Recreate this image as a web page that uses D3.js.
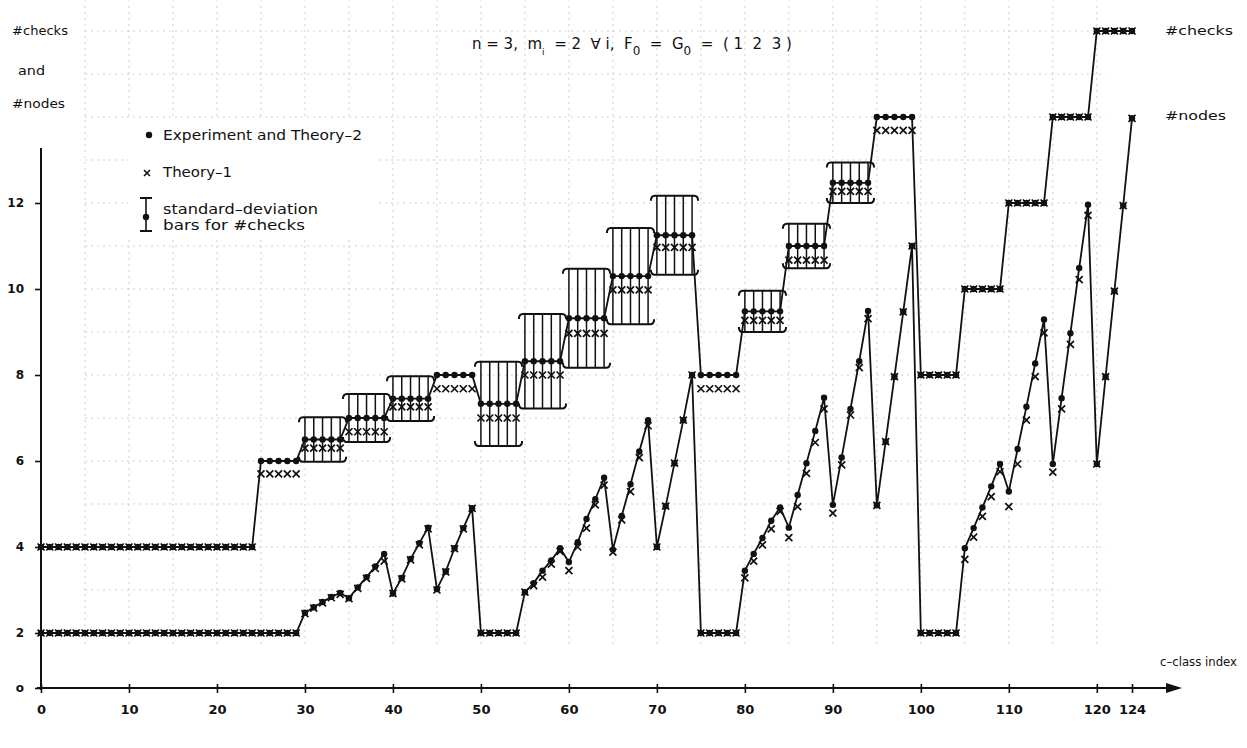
<!DOCTYPE html>
<html>
<head>
<meta charset="utf-8">
<script src="https://cdn.jsdelivr.net/npm/d3@7"></script>
<style>
  html, body { margin: 0; padding: 0; background: #fff; }
  text { font-family: "DejaVu Sans", "Liberation Sans", Arial, sans-serif; fill: #111; white-space: pre; }
</style>
</head>
<body>
<script>
// ---------------- data ----------------
const xTicks = [0, 10, 20, 30, 40, 50, 60, 70, 80, 90, 100, 110, 120, 124];
const yTicks = [0, 2, 4, 6, 8, 10, 12];

// #checks, Experiment and Theory-2 (index 0..124)
const checksExp = [
  4,4,4,4,4, 4,4,4,4,4, 4,4,4,4,4, 4,4,4,4,4, 4,4,4,4,4,
  6,6,6,6,6,
  6.5,6.5,6.5,6.5,6.5,
  7,7,7,7,7,
  7.45,7.45,7.45,7.45,7.45,
  8,8,8,8,8,
  7.33,7.33,7.33,7.33,7.33,
  8.32,8.32,8.32,8.32,8.32,
  9.32,9.32,9.32,9.32,9.32,
  10.3,10.3,10.3,10.3,10.3,
  11.25,11.25,11.25,11.25,11.25,
  8,8,8,8,8,
  9.48,9.48,9.48,9.48,9.48,
  11,11,11,11,11,
  12.47,12.47,12.47,12.47,12.47,
  14,14,14,14,14,
  8,8,8,8,8,
  10,10,10,10,10,
  12,12,12,12,12,
  14,14,14,14,14,
  16,16,16,16,16
];
// #checks, Theory-1
const checksT1 = [
  4,4,4,4,4, 4,4,4,4,4, 4,4,4,4,4, 4,4,4,4,4, 4,4,4,4,4,
  5.7,5.7,5.7,5.7,5.7,
  6.3,6.3,6.3,6.3,6.3,
  6.68,6.68,6.68,6.68,6.68,
  7.26,7.26,7.26,7.26,7.26,
  7.68,7.68,7.68,7.68,7.68,
  7.0,7.0,7.0,7.0,7.0,
  8.0,8.0,8.0,8.0,8.0,
  8.97,8.97,8.97,8.97,8.97,
  9.98,9.98,9.98,9.98,9.98,
  10.97,10.97,10.97,10.97,10.97,
  7.68,7.68,7.68,7.68,7.68,
  9.27,9.27,9.27,9.27,9.27,
  10.67,10.67,10.67,10.67,10.67,
  12.27,12.27,12.27,12.27,12.27,
  13.69,13.69,13.69,13.69,13.69,
  8,8,8,8,8,
  10,10,10,10,10,
  12,12,12,12,12,
  14,14,14,14,14,
  16,16,16,16,16
];
// standard deviation of #checks (null = no bar)
const checksSD = [
  null,null,null,null,null, null,null,null,null,null, null,null,null,null,null, null,null,null,null,null, null,null,null,null,null,
  null,null,null,null,null,
  0.52,0.52,0.52,0.52,0.52,
  0.56,0.56,0.56,0.56,0.56,
  0.52,0.52,0.52,0.52,0.52,
  null,null,null,null,null,
  0.98,0.98,0.98,0.98,0.98,
  1.1,1.1,1.1,1.1,1.1,
  1.15,1.15,1.15,1.15,1.15,
  1.12,1.12,1.12,1.12,1.12,
  0.92,0.92,0.92,0.92,0.92,
  null,null,null,null,null,
  0.48,0.48,0.48,0.48,0.48,
  0.52,0.52,0.52,0.52,0.52,
  0.47,0.47,0.47,0.47,0.47,
  null,null,null,null,null,
  null,null,null,null,null,
  null,null,null,null,null,
  null,null,null,null,null,
  null,null,null,null,null,
  null,null,null,null,null
];
// #nodes, Experiment and Theory-2
const nodesExp = [
  2,2,2,2,2, 2,2,2,2,2, 2,2,2,2,2, 2,2,2,2,2, 2,2,2,2,2, 2,2,2,2,2,
  2.47,2.6,2.72,2.84,2.93, 2.81,3.06,3.3,3.55,3.84,
  2.92,3.28,3.72,4.09,4.45, 3.02,3.43,3.97,4.44,4.9,
  2,2,2,2,2,
  2.95,3.16,3.45,3.69,3.97, 3.65,4.11,4.65,5.11,5.61,
  3.94,4.72,5.46,6.22,6.95, 4.0,4.95,5.95,6.95,8.0,
  2,2,2,2,2,
  3.45,3.84,4.21,4.61,4.92, 4.45,5.21,5.95,6.7,7.47,
  4.98,6.08,7.21,8.32,9.49, 4.97,6.45,7.96,9.47,11.0,
  2,2,2,2,2,
  3.97,4.44,4.92,5.41,5.93, 5.29,6.28,7.26,8.27,9.29,
  5.93,7.46,8.97,10.49,11.96, 5.93,7.96,9.95,11.94,13.97
];
// #nodes, Theory-1
const nodesT1 = [
  2,2,2,2,2, 2,2,2,2,2, 2,2,2,2,2, 2,2,2,2,2, 2,2,2,2,2, 2,2,2,2,2,
  2.45,2.58,2.7,2.82,2.9, 2.8,3.04,3.27,3.5,3.67,
  2.92,3.26,3.7,4.05,4.42, 3.0,3.42,3.96,4.42,4.9,
  2,2,2,2,2,
  2.95,3.1,3.3,3.6,3.9, 3.45,4.0,4.44,4.98,5.44,
  3.88,4.63,5.29,6.08,6.82, 4.0,4.95,5.95,6.95,8.0,
  2,2,2,2,2,
  3.28,3.67,4.05,4.42,4.83, 4.22,4.94,5.71,6.43,7.21,
  4.79,5.91,7.07,8.17,9.31, 4.97,6.45,7.96,9.47,11.0,
  2,2,2,2,2,
  3.71,4.23,4.71,5.17,5.75, 4.94,5.93,6.95,7.96,8.98,
  5.74,7.21,8.71,10.22,11.71, 5.93,7.96,9.95,11.94,13.97
];

// ---------------- chart ----------------
const W = 1247, H = 748;
const svg = d3.select("body").append("svg").attr("width", W).attr("height", H)
  .style("background", "#fff");

const x = d3.scaleLinear().domain([0, 124]).range([41, 1132]);
// the original drawing compresses the 0..2 band
const y = d3.scaleLinear().domain([0, 2, 16]).range([688, 633, 31]);

// faint graph-paper grid
const grid = svg.append("g").attr("stroke", "#a0a0a0").attr("stroke-width", 0.8)
  .attr("stroke-dasharray", "2,4").attr("opacity", 0.6);
grid.selectAll("line.v").data(d3.range(5, 121, 5)).join("line")
  .attr("x1", d => x(d)).attr("x2", d => x(d)).attr("y1", y(1.6)).attr("y2", y(16.7));
grid.selectAll("line.h").data(d3.range(3, 17, 1)).join("line")
  .attr("x1", x(5)).attr("x2", x(121)).attr("y1", d => y(d)).attr("y2", d => y(d));

// white box behind legend
svg.append("rect").attr("x", 128).attr("y", 118).attr("width", 250).attr("height", 122).attr("fill", "#fff");

// axes
const xAxis = d3.axisBottom(x).tickValues(xTicks).tickSize(5).tickPadding(12)
  .tickFormat(d3.format("d"));
const gx = svg.append("g").attr("transform", `translate(0,${y(0)})`).call(xAxis);
gx.select(".domain").remove();
gx.selectAll(".tick line").attr("stroke", "#111").attr("stroke-width", 1.6).attr("y1", -4);
gx.selectAll(".tick text").style("font-size", "13px").style("font-weight", "bold")
  .attr("fill", "#111");
svg.append("line").attr("x1", x(0) - 4).attr("x2", 1178).attr("y1", y(0)).attr("y2", y(0))
  .attr("stroke", "#111").attr("stroke-width", 2);
svg.append("path").attr("d", `M1166,${y(0) - 5} L1182,${y(0)} L1166,${y(0) + 5} Z`).attr("fill", "#111");

const yAxis = d3.axisLeft(y).tickValues(yTicks).tickSize(6).tickPadding(11)
  .tickFormat(d => d === 0 ? "o" : d);
const gy = svg.append("g").attr("transform", `translate(${x(0)},0)`).call(yAxis);
gy.select(".domain").remove();
gy.selectAll(".tick line").attr("stroke", "#111").attr("stroke-width", 1.6);
gy.selectAll(".tick text").style("font-size", "12px").style("font-weight", "bold")
  .attr("fill", "#111");
svg.append("line").attr("x1", x(0)).attr("x2", x(0)).attr("y1", y(0) + 2).attr("y2", 148)
  .attr("stroke", "#111").attr("stroke-width", 2);

// error bars for #checks
const blocks = [];
checksSD.forEach((s, i) => {
  if (s == null) return;
  const last = blocks[blocks.length - 1];
  if (last && last.end === i - 1 && checksSD[i - 1] === s) last.end = i;
  else blocks.push({ start: i, end: i });
});
const eb = svg.append("g").attr("stroke", "#111").attr("fill", "none");
blocks.forEach(b => {
  const idx = d3.range(b.start, b.end + 1);
  const hi = checksExp[b.start] + checksSD[b.start];
  const lo = checksExp[b.start] - checksSD[b.start];
  eb.selectAll(null).data(idx).join("line")
    .attr("x1", i => x(i)).attr("x2", i => x(i))
    .attr("y1", i => y(checksExp[i] + checksSD[i])).attr("y2", i => y(checksExp[i] - checksSD[i]))
    .attr("stroke-width", 1.5);
  const x0 = x(b.start) - 6, x1 = x(b.end) + 6;
  const yh = y(hi), yl = y(lo);
  eb.append("path").attr("stroke-width", 2)
    .attr("d", `M${x0},${yh + 5} Q${x0},${yh} ${x0 + 4},${yh} L${x1 - 4},${yh} Q${x1},${yh} ${x1},${yh + 5}`);
  eb.append("path").attr("stroke-width", 2)
    .attr("d", `M${x0},${yl - 5} Q${x0},${yl} ${x0 + 4},${yl} L${x1 - 4},${yl} Q${x1},${yl} ${x1},${yl - 5}`);
});

// lines
const line = d3.line().x((d, i) => x(i)).y(d => y(d));
svg.append("path").datum(checksExp).attr("d", line).attr("fill", "none")
  .attr("stroke", "#111").attr("stroke-width", 1.8);
svg.append("path").datum(nodesExp).attr("d", line).attr("fill", "none")
  .attr("stroke", "#111").attr("stroke-width", 1.8);

// markers
const cross = "M-3.5,-3.5L3.5,3.5M-3.5,3.5L3.5,-3.5";
function crosses(data) {
  svg.append("g").selectAll("path").data(data).join("path")
    .attr("transform", (d, i) => `translate(${x(i)},${y(d)})`)
    .attr("d", cross).attr("stroke", "#111").attr("stroke-width", 1.7).attr("fill", "none");
}
function dots(data) {
  svg.append("g").selectAll("circle").data(data).join("circle")
    .attr("cx", (d, i) => x(i)).attr("cy", d => y(d)).attr("r", 3.2).attr("fill", "#111");
}
crosses(checksT1); dots(checksExp);
crosses(nodesT1); dots(nodesExp);

// texts
const t = (xx, yy, s, size, len, anchor) => {
  const el = svg.append("text").attr("x", xx).attr("y", yy)
    .attr("text-anchor", anchor || "start").style("font-size", (size || 13) + "px").text(s);
  if (len) el.attr("textLength", len).attr("lengthAdjust", "spacingAndGlyphs");
  return el;
};

t(12, 35, "#checks", 13, 56);
t(18, 75, "and", 13, 27);
t(12, 108, "#nodes", 13, 53);

t(1165, 35, "#checks", 13, 68);
t(1165, 120, "#nodes", 13, 61);
t(1160, 666, "c\u2013class index", 13, 77);

// title with subscripts
const title = svg.append("text").attr("x", 472).attr("y", 49).style("font-size", "15px");
title.append("tspan").text("n = 3,  m");
title.append("tspan").attr("dy", 6).style("font-size", "9px").text("i");
title.append("tspan").attr("dy", -6).text("  = 2  \u2200 i,  F");
title.append("tspan").attr("dy", 6).style("font-size", "12px").text("0");
title.append("tspan").attr("dy", -6).text("  =  G");
title.append("tspan").attr("dy", 6).style("font-size", "12px").text("0");
title.append("tspan").attr("dy", -6).text("  =  ( 1  2  3 )");

// legend
svg.append("circle").attr("cx", 149).attr("cy", 135).attr("r", 3.2).attr("fill", "#111");
t(163, 140, "Experiment and Theory\u20132", 14, 199);
svg.append("path").attr("transform", "translate(147,173)").attr("d", "M-3,-3L3,3M-3,3L3,-3")
  .attr("stroke", "#111").attr("stroke-width", 1.6);
t(163, 177, "Theory\u20131", 14, 69);
svg.append("line").attr("x1", 146).attr("x2", 146).attr("y1", 198).attr("y2", 231).attr("stroke", "#111").attr("stroke-width", 1.6);
svg.append("line").attr("x1", 140).attr("x2", 152).attr("y1", 198).attr("y2", 198).attr("stroke", "#111").attr("stroke-width", 2);
svg.append("line").attr("x1", 140).attr("x2", 152).attr("y1", 231).attr("y2", 231).attr("stroke", "#111").attr("stroke-width", 2);
svg.append("circle").attr("cx", 146).attr("cy", 217).attr("r", 3.2).attr("fill", "#111");
t(163, 214, "standard\u2013deviation", 14, 155);
t(163, 230, "bars for #checks", 14, 142);
</script>
</body>
</html>
